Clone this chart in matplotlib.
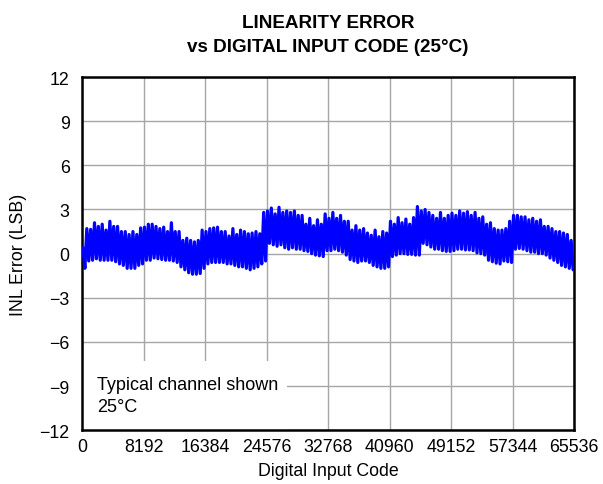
import matplotlib
matplotlib.use("Agg")
import matplotlib.pyplot as plt
from matplotlib.patches import Rectangle
import numpy as np

plt.rcParams["font.family"] = ["Liberation Sans", "DejaVu Sans"]

# INL envelope per 512-code block (LSB)
block_size = 512
inl_hi = [
    0.4, 1.7, 1.65, 2.1, 1.85, 2.0, 1.6, 2.2, 1.85, 1.85, 1.5, 1.5, 1.3, 1.5, 1.3, 1.75, 1.8, 2.0,
    2.0, 1.85, 1.7, 1.8, 1.5, 2.1, 1.5, 1.5, 0.9, 1.05, 0.9, 0.8, 0.9, 1.6, 1.5, 1.7, 1.75, 1.8,
    1.5, 1.5, 1.2, 1.7, 1.3, 1.6, 1.5, 1.35, 1.4, 1.5, 1.35, 2.8, 2.9, 3.1, 2.7, 3.15, 2.8, 2.9,
    2.8, 2.9, 2.6, 2.6, 2.0, 2.4, 1.9, 2.3, 2.0, 2.7, 2.4, 2.8, 2.4, 2.6, 2.2, 2.2, 1.6, 1.9,
    1.6, 1.7, 1.4, 1.25, 1.6, 1.15, 1.5, 1.4, 2.2, 2.0, 2.45, 2.1, 2.35, 2.0, 2.45, 3.2, 2.9, 3.0, 2.8,
    2.6, 2.4, 2.8, 2.4, 2.6, 2.75, 2.6, 2.9, 2.75, 2.85, 2.6, 2.8, 2.4, 2.5, 2.0, 2.1, 1.7, 1.6,
    1.6, 1.7, 2.2, 2.6, 2.6, 2.5, 2.5, 2.3, 2.4, 2.2, 2.3, 1.85, 1.85, 1.7, 1.5, 1.5, 1.4, 1.3, 0.9,
]
inl_lo = [
    -1.0, -0.5, -0.45, -0.35, -0.45, -0.45, -0.45, -0.45, -0.55, -0.7, -0.8, -1.0, -1.0, -1.0, -0.8, -0.7, -0.45, -0.45,
    -0.3, -0.35, -0.4, -0.45, -0.45, -0.5, -0.6, -0.9, -1.1, -1.3, -1.4, -1.4, -1.35, -1.0, -0.7, -0.6, -0.6, -0.6,
    -0.6, -0.7, -0.7, -0.8, -0.9, -0.9, -1.0, -1.1, -1.0, -0.9, -0.7, -0.5, 0.7, 0.6, 0.5, 0.6, 0.4, 0.3,
    0.4, 0.3, 0.3, 0.2, 0.15, 0.0, -0.1, -0.15, -0.2, 0.2, 0.2, 0.3, 0.2, 0.1, -0.1, -0.4, -0.5, -0.6,
    -0.5, -0.5, -0.6, -0.8, -0.9, -1.0, -1.0, -0.9, -0.2, -0.1, 0.0, 0.0, -0.05, -0.05, -0.1, -0.1, 0.7, 0.6, 0.45,
    0.3, 0.3, 0.2, 0.15, 0.15, 0.2, 0.3, 0.3, 0.25, 0.25, 0.2, 0.05, 0.0, -0.1, -0.45, -0.55, -0.65, -0.7,
    -0.5, -0.55, -0.6, 0.3, 0.35, 0.3, 0.2, 0.1, 0.1, 0.0, 0.0, -0.1, -0.3, -0.45, -0.6, -0.8, -0.9, -1.0, -1.1,
]

x_ticks = [0, 8192, 16384, 24576, 32768, 40960, 49152, 57344, 65536]
y_ticks = [-12, -9, -6, -3, 0, 3, 6, 9, 12]

# zigzag through block peaks and valleys
block_start = np.arange(len(inl_hi)) * block_size
codes = np.column_stack([block_start + block_size * 0.25, block_start + block_size * 0.75]).ravel()
inl = np.column_stack([inl_hi, inl_lo]).ravel()

fig = plt.figure(figsize=(6.03, 4.85), dpi=100)
ax = fig.add_axes([0.136, 0.111, 0.816, 0.728])

ax.plot(codes, inl, color="#0000ff", linewidth=2.3, solid_joinstyle="round",
        solid_capstyle="round", zorder=3)

ax.set_xlim(0, 65536)
ax.set_ylim(-12, 12)
ax.set_xticks(x_ticks)
ax.set_yticks(y_ticks)
ax.tick_params(length=0, labelsize=12.8, colors="black")
ax.tick_params(axis="y", pad=9)
ax.tick_params(axis="x", pad=6)
ax.grid(True, color="#a6a6a6", linewidth=1.0)
ax.set_axisbelow(True)
for sp in ax.spines.values():
    sp.set_linewidth(1.8)
    sp.set_color("black")

# white box behind the note hides the grid
ax.add_patch(Rectangle((0, 0), 0.417, 0.195, transform=ax.transAxes,
                       facecolor="white", edgecolor="none", zorder=1))
ax.text(0.031, 0.098, "Typical channel shown\n25°C", transform=ax.transAxes,
        fontsize=13, va="center", ha="left", linespacing=1.35, zorder=2)

ax.set_xlabel("Digital Input Code", fontsize=12.8, labelpad=5)
ax.set_ylabel("INL Error (LSB)", fontsize=12.8, labelpad=9)
ax.set_title("LINEARITY ERROR\nvs DIGITAL INPUT CODE (25°C)", fontsize=13.6,
             fontweight="bold", pad=19, linespacing=1.55)

fig.savefig("out.png", dpi=100)
